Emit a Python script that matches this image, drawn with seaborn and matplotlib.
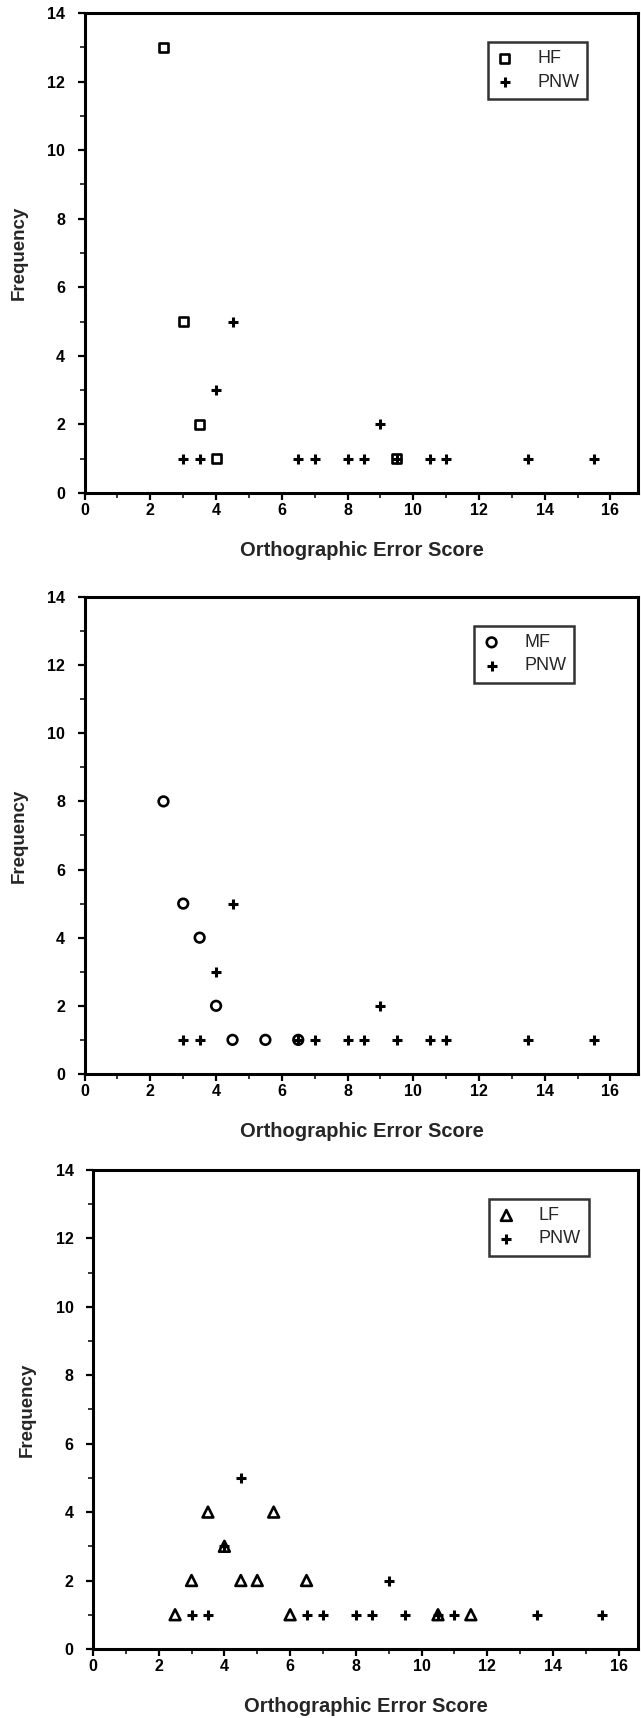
import matplotlib
matplotlib.use("Agg")
import matplotlib.pyplot as plt
import seaborn as sns
from matplotlib.ticker import MultipleLocator

# ---------------- Data ----------------
pnw_x = [3, 3.5, 4, 4.5, 6.5, 7, 8, 8.5, 9, 9.5, 10.5, 11, 13.5, 15.5]
pnw_y = [1, 1, 3, 5, 1, 1, 1, 1, 2, 1, 1, 1, 1, 1]

hf_x = [2.4, 3, 3.5, 4, 9.5]
hf_y = [13, 5, 2, 1, 1]

mf_x = [2.4, 3, 3.5, 4, 4.5, 5.5, 6.5]
mf_y = [8, 5, 4, 2, 1, 1, 1]

lf_x = [2.5, 3, 3.5, 4, 4.5, 5, 5.5, 6, 6.5, 10.5, 11.5]
lf_y = [1, 2, 4, 3, 2, 2, 4, 1, 2, 1, 1]

groups = [("HF", hf_x, hf_y, "s", 42), ("MF", mf_x, mf_y, "o", 48), ("LF", lf_x, lf_y, "^", 60)]

sns.set_style("ticks")
plt.rcParams["font.family"] = ["Liberation Sans", "DejaVu Sans"]

fig = plt.figure(figsize=(6.41, 17.18), dpi=100)

# axes boxes (left, bottom, width, height) in figure fraction, x upper limit, legend corner
layout = [
    ((0.132, 0.7130, 0.864, 0.2794), 16.85, 15.3),
    ((0.132, 0.3749, 0.864, 0.2776), 16.85, 14.9),
    ((0.145, 0.0402, 0.851, 0.2788), 16.6, 15.1),
]

for (name, gx, gy, mk, ms), (box, xmax, leg_x) in zip(groups, layout):
    ax = fig.add_axes(box)
    sns.scatterplot(x=gx, y=gy, marker=mk, s=ms, facecolors="none",
                    edgecolor="black", linewidth=1.9, label=name, ax=ax, zorder=3)
    sns.scatterplot(x=pnw_x, y=pnw_y, marker="+", s=60, color="black",
                    linewidth=2.2, label="PNW", ax=ax, zorder=4)

    ax.set_xlim(0, xmax)
    ax.set_ylim(0, 14)
    ax.xaxis.set_major_locator(MultipleLocator(2))
    ax.xaxis.set_minor_locator(MultipleLocator(1))
    ax.yaxis.set_major_locator(MultipleLocator(2))
    ax.yaxis.set_minor_locator(MultipleLocator(1))
    ax.tick_params(which="major", direction="out", length=5, width=1.6,
                   labelsize=11.5, colors="black")
    ax.tick_params(which="minor", direction="out", length=3.5, width=1.3)
    ax.tick_params(axis="x", pad=2)
    ax.tick_params(axis="y", pad=9)
    for lab in ax.get_xticklabels() + ax.get_yticklabels():
        lab.set_fontweight("bold")
    for sp in ax.spines.values():
        sp.set_visible(True)
        sp.set_linewidth(2.2)
        sp.set_color("black")

    ax.set_xlabel("Orthographic Error Score", fontsize=14.5, fontweight="bold", labelpad=17)
    ax.set_ylabel("Frequency", fontsize=13.5, fontweight="bold", labelpad=14)

    leg = ax.legend(loc="upper right", bbox_to_anchor=(leg_x, 13.15),
                    bbox_transform=ax.transData, borderaxespad=0,
                    frameon=True, fancybox=False, edgecolor="black", fontsize=13,
                    handletextpad=1.3, borderpad=0.45, labelspacing=0.35,
                    handlelength=1.0)
    leg.get_frame().set_linewidth(1.8)

fig.savefig("out.png", dpi=100)
